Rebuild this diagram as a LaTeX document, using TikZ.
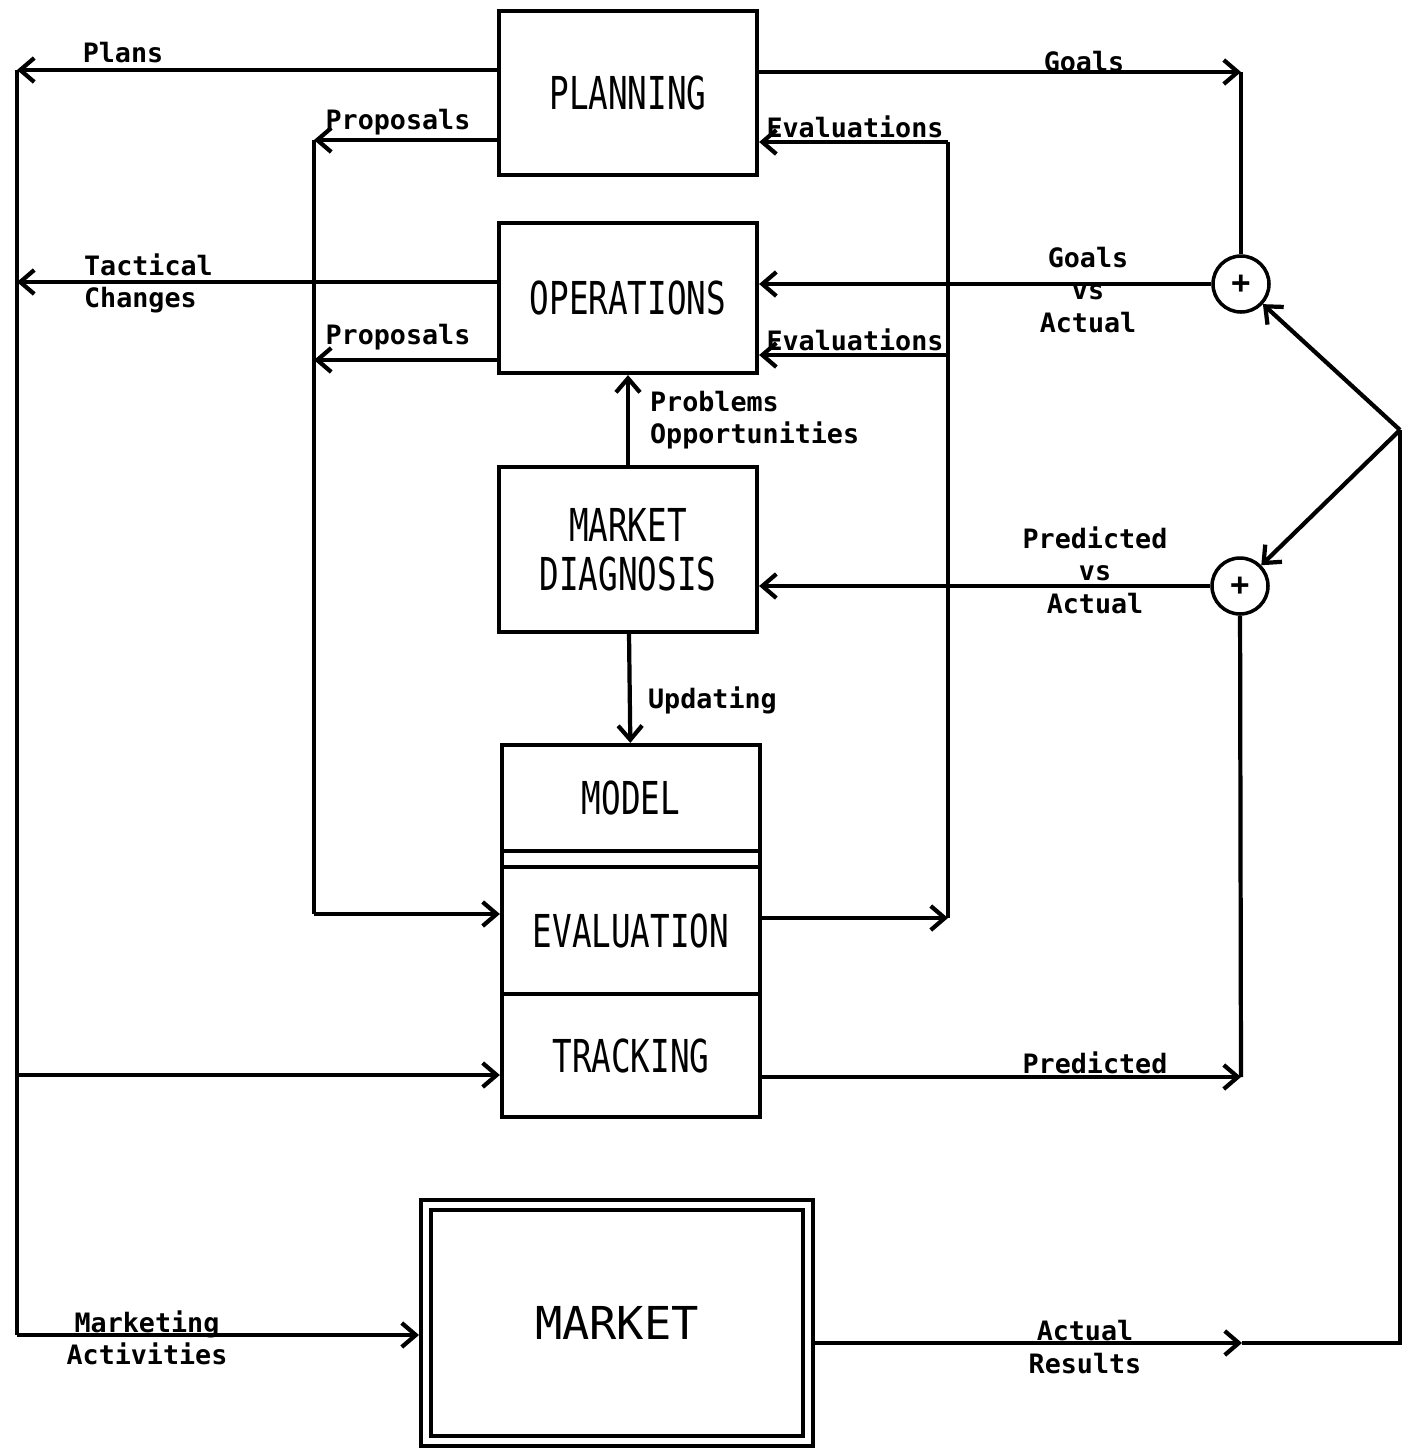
\documentclass[tikz,border=0pt]{standalone}
\usepackage{fontspec}
\setmonofont{DejaVu Sans Mono}
\newfontfamily\boxfont[FakeStretch=0.72]{DejaVu Sans Mono}
\usetikzlibrary{arrows.meta}

\begin{document}
\begin{tikzpicture}[line width=1.2pt,>={Straight Barb[length=1.4mm,width=2.4mm]},
  blk/.style={draw,minimum width=2.58cm,inner sep=0pt,align=center,font=\boxfont\fontsize{12.9}{14}\selectfont},
  lbl/.style={inner sep=0pt,font=\ttfamily\bfseries\fontsize{7.6}{9.2}\selectfont},
  sum/.style={draw,circle,line width=1pt,minimum size=0.56cm,inner sep=0pt,font=\ttfamily\bfseries\small}]
  \useasboundingbox (0,0) rectangle (14.16,-14.48);
  \node[blk,minimum height=1.64cm] (plan) at (6.28,-0.93) {PLANNING};
  \node[blk,minimum height=1.50cm] (ops) at (6.28,-2.98) {OPERATIONS};
  \node[blk,minimum height=1.65cm] (diag) at (6.28,-5.495) {MARKET\\DIAGNOSIS};
  \node[blk,minimum height=1.06cm] (model) at (6.31,-7.98) {MODEL};
  \node[blk,minimum height=1.27cm] (eval) at (6.31,-9.305) {EVALUATION};
  \node[blk,minimum height=1.23cm] (track) at (6.31,-10.555) {TRACKING};
  \draw ([xshift=0.6pt]model.south west) -- ([xshift=0.6pt]eval.north west)
        ([xshift=-0.6pt]model.south east) -- ([xshift=-0.6pt]eval.north east);
  \node[draw,double,double distance=0.06cm,outer sep=0.07cm,minimum width=3.82cm,minimum height=2.36cm,
    font=\ttfamily\fontsize{12.9}{14}\selectfont] (mkt) at (6.17,-13.23) {MARKET};
  \node[sum] (sg) at (12.41,-2.84) {+};
  \node[sum] (sp) at (12.40,-5.86) {+};

  \coordinate (plansEnd) at (0.17,-0.70);
  \coordinate (tactEnd) at (0.17,-2.82);
  \coordinate (trackIn) at (0.17,-10.75);
  \coordinate (mktIn) at (0.17,-13.35);
  \coordinate (propTop) at (3.14,-1.40);
  \coordinate (propMid) at (3.14,-3.60);
  \coordinate (propBot) at (3.14,-9.14);
  \coordinate (evTop) at (9.48,-1.42);
  \coordinate (evMid) at (9.48,-3.55);
  \coordinate (evBot) at (9.48,-9.18);
  \coordinate (goalEnd) at (12.41,-0.72);
  \coordinate (predEnd) at (12.41,-10.77);
  \coordinate (resEnd) at (12.42,-13.43);
  \coordinate (resCorner) at (14.00,-13.43);
  \coordinate (split) at (14.00,-4.30);

  \draw[->] (plan.west |- plansEnd) -- (plansEnd);
  \draw[->] (ops.west |- tactEnd) -- (tactEnd);
  \draw (plansEnd) -- (mktIn);
  \draw[->] (trackIn) -- (track.west |- trackIn);
  \draw[->] (mktIn) -- (mkt.west |- mktIn);
  \draw[->] (plan.west |- propTop) -- (propTop);
  \draw[->] (ops.west |- propMid) -- (propMid);
  \draw (propTop) -- (propBot);
  \draw[->] (propBot) -- (eval.west |- propBot);
  \draw[->] (eval.east |- evBot) -- (evBot);
  \draw (evBot) -- (evTop);
  \draw[->] (evTop) -- (plan.east |- evTop);
  \draw[->] (evMid) -- (ops.east |- evMid);
  \draw[->] (plan.east |- goalEnd) -- (goalEnd);
  \draw (goalEnd) -- (sg);
  \draw[->] (sg) -- (ops.east |- sg);
  \draw[->] (sp) -- (diag.east |- sp);
  \draw[->] (track.east |- predEnd) -- (predEnd);
  \draw (predEnd) -- (sp);
  \draw[->] (mkt.east |- resEnd) -- (resEnd);
  \draw (resEnd) -- (resCorner) -- (split);
  \draw[->] (split) -- (sg);
  \draw[->] (split) -- (sp);
  \draw[->] (diag) -- (ops);
  \draw[->] (diag) -- (model);

  \node[lbl] (lPlans) at (1.23,-0.53) {Plans};
  \node[lbl,align=left,anchor=west] (lTact) at (0.82,-2.835) {Tactical\\Changes};
  \node[lbl] (lProp1) at (3.98,-1.22) {Proposals};
  \node[lbl] (lProp2) at (3.98,-3.37) {Proposals};
  \node[lbl] (lEval1) at (8.55,-1.27) {Evaluations};
  \node[lbl] (lEval2) at (8.55,-3.40) {Evaluations};
  \node[lbl] (lGoals) at (10.84,-0.62) {Goals};
  \node[lbl,align=center] (lGva) at (10.88,-2.90) {Goals\\vs\\Actual};
  \node[lbl,align=left,anchor=west] (lProb) at (6.48,-4.20) {Problems\\Opportunities};
  \node[lbl,align=center] (lPva) at (10.95,-5.70) {Predicted\\vs\\Actual};
  \node[lbl,anchor=west] (lUpd) at (6.46,-7.00) {Updating};
  \node[lbl] (lPred) at (10.95,-10.63) {Predicted};
  \node[lbl,align=center] (lMkt) at (1.47,-13.38) {Marketing\\Activities};
  \node[lbl,align=center] (lRes) at (10.85,-13.47) {Actual\\Results};
\end{tikzpicture}
\end{document}
